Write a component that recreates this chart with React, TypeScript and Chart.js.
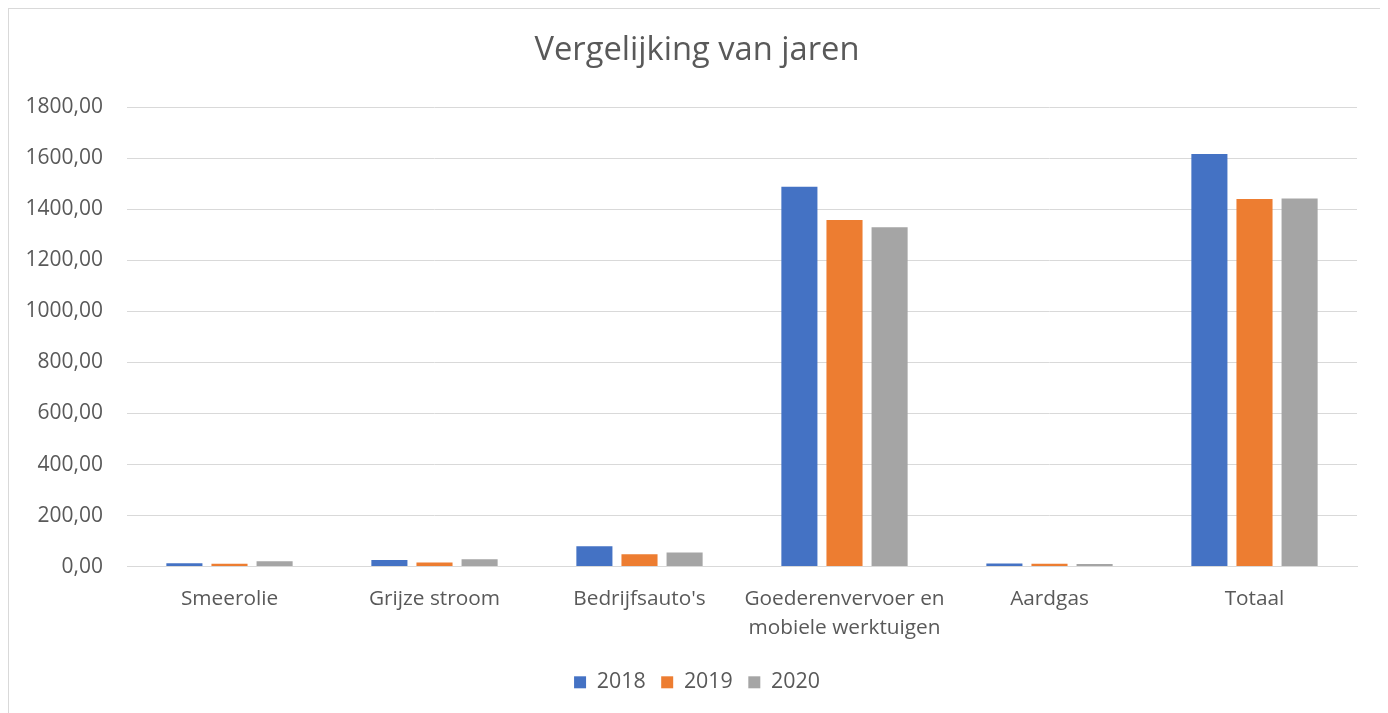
import React, { useEffect, useRef } from "react";
import { Chart, registerables } from "chart.js";

Chart.register(...registerables);

const categories: (string | string[])[] = [
  "Smeerolie",
  "Grijze stroom",
  "Bedrijfsauto's",
  ["Goederenvervoer en", "mobiele werktuigen"],
  "Aardgas",
  "Totaal",
];
const series2018 = [13, 26, 80, 1488, 12, 1617];
const series2019 = [11, 16, 48, 1358, 11, 1440];
const series2020 = [21, 29, 55, 1330, 10, 1442];
const seriesLabels = ["2018", "2019", "2020"];
const seriesColors = ["#4472C4", "#ED7D31", "#A5A5A5"];
const titleText = "Vergelijking van jaren";

const FONT = "'Open Sans', 'Noto Sans', sans-serif";
const TEXT = "#595959";

export default function App() {
  const ref = useRef<HTMLCanvasElement>(null);
  useEffect(() => {
    if (!ref.current) return;
    const chart = new Chart(ref.current, {
      type: "bar",
      data: {
        labels: categories,
        datasets: [series2018, series2019, series2020].map((d, i) => ({
          label: seriesLabels[i],
          data: d,
          backgroundColor: seriesColors[i],
          borderWidth: 0,
          barPercentage: 0.8,
          categoryPercentage: 0.66,
        })),
      },
      options: {
        animation: false,
        responsive: false,
        maintainAspectRatio: false,
        layout: { padding: { left: 0, right: 0, top: 0, bottom: 10 } },
        plugins: {
          title: {
            display: true,
            text: titleText,
            color: TEXT,
            font: { family: FONT, size: 32.7, weight: "normal" as any, lineHeight: 1.2 },
            padding: { top: 22, bottom: 37 },
          },
          legend: {
            position: "bottom",
            labels: {
              color: TEXT,
              boxWidth: 12,
              boxHeight: 12,
              padding: 15.5,
              font: { family: FONT, size: 21.4 },
            },
          },
          tooltip: { enabled: false },
        },
        scales: {
          x: {
            grid: { display: false },
            border: { display: true, color: "#d9d9d9" },
            ticks: {
              color: TEXT,
              font: { family: FONT, size: 20.8, lineHeight: 1.4 },
              padding: 10,
              maxRotation: 0,
              autoSkip: false,
            },
            afterFit: (s: any) => {
              s.height = 89.5;
            },
          },
          y: {
            min: 0,
            max: 1800,
            border: { display: false },
            grid: { color: "#d9d9d9", drawTicks: false },
            ticks: {
              stepSize: 200,
              color: TEXT,
              padding: 24,
              font: { family: FONT, size: 21 },
              callback: (v: any) => Number(v).toFixed(2).replace(".", ","),
            },
            afterFit: (s: any) => {
              s.width = 118;
            },
          },
          yRight: {
            position: "right",
            display: true,
            min: 0,
            max: 1800,
            border: { display: false },
            grid: { display: false, drawTicks: false },
            ticks: { display: false },
            afterFit: (s: any) => {
              s.width = 28;
            },
          },
        },
      },
    });
    return () => chart.destroy();
  }, []);
  return (
    <div
      style={{
        width: 1378,
        height: 705,
        boxSizing: "border-box",
        borderTop: "1px solid #d9d9d9",
        borderLeft: "1px solid #d9d9d9",
        borderRight: "1px solid #d9d9d9",
      }}
    >
      <canvas ref={ref} width={1376} height={704} style={{ display: "block" }} />
    </div>
  );
}
